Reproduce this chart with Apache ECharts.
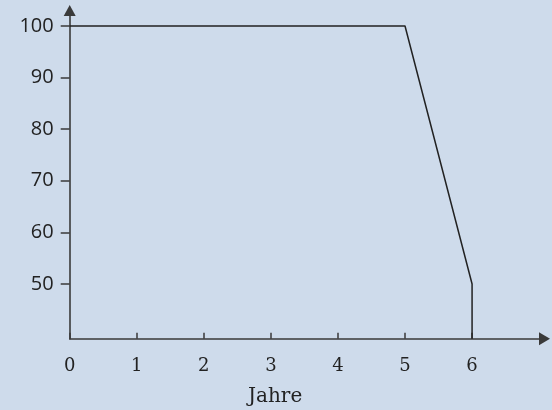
<!DOCTYPE html>
<html>
<head>
<meta charset="utf-8">
<script src="https://cdn.jsdelivr.net/npm/echarts@6/dist/echarts.min.js"></script>
<style>
  html, body { margin: 0; padding: 0; background: #cedbeb; }
  #chart { width: 552px; height: 410px; }
</style>
</head>
<body>
<div id="chart"></div>
<script>
  // Daten: Restwert in % über die Jahre
  var years = [0, 5, 6, 6];
  var values = [100, 100, 50, 39.4];
  var xTicks = [0, 1, 2, 3, 4, 5, 6];
  var yTicks = [50, 60, 70, 80, 90, 100];

  var axisColor = '#3a3a3a';
  var ink = '#222';
  var serif = '"DejaVu Serif", "Liberation Serif", serif';
  var sans = '"Open Sans", "Noto Sans", sans-serif';

  var chart = echarts.init(document.getElementById('chart'), null, { renderer: 'canvas' });

  chart.setOption({
    backgroundColor: '#cedbeb',
    animation: false,
    title: {
      text: 'Jahre',
      left: 243,
      top: 382,
      textStyle: { fontFamily: serif, fontSize: 20, fontWeight: 'normal', color: ink }
    },
    grid: { left: 69.7, right: 7.5, top: 10.5, bottom: 71.3 },
    xAxis: {
      type: 'value',
      min: 0,
      max: 7.08,
      interval: 1,
      splitLine: { show: false },
      axisLine: {
        lineStyle: { color: axisColor, width: 1.6 },
        symbol: ['none', 'triangle'],
        symbolSize: [13, 11]
      },
      axisTick: {
        inside: true,
        length: 6,
        lineStyle: { color: axisColor, width: 1.5 },
        customValues: xTicks
      },
      axisLabel: {
        margin: 19,
        fontFamily: serif,
        fontSize: 18,
        color: ink,
        customValues: xTicks
      }
    },
    yAxis: {
      type: 'value',
      min: 39.4,
      max: 103.0,
      splitLine: { show: false },
      axisLine: {
        show: true,
        lineStyle: { color: axisColor, width: 1.6 },
        symbol: ['none', 'triangle'],
        symbolSize: [12, 11]
      },
      axisTick: {
        show: true,
        length: 9,
        lineStyle: { color: axisColor, width: 1.5 },
        customValues: yTicks
      },
      axisLabel: {
        margin: 16,
        fontFamily: sans,
        fontSize: 20,
        color: ink,
        customValues: yTicks
      }
    },
    series: [{
      type: 'line',
      data: years.map(function (x, i) { return [x, values[i]]; }),
      showSymbol: false,
      clip: false,
      lineStyle: { color: ink, width: 1.5 }
    }]
  });
</script>
</body>
</html>
